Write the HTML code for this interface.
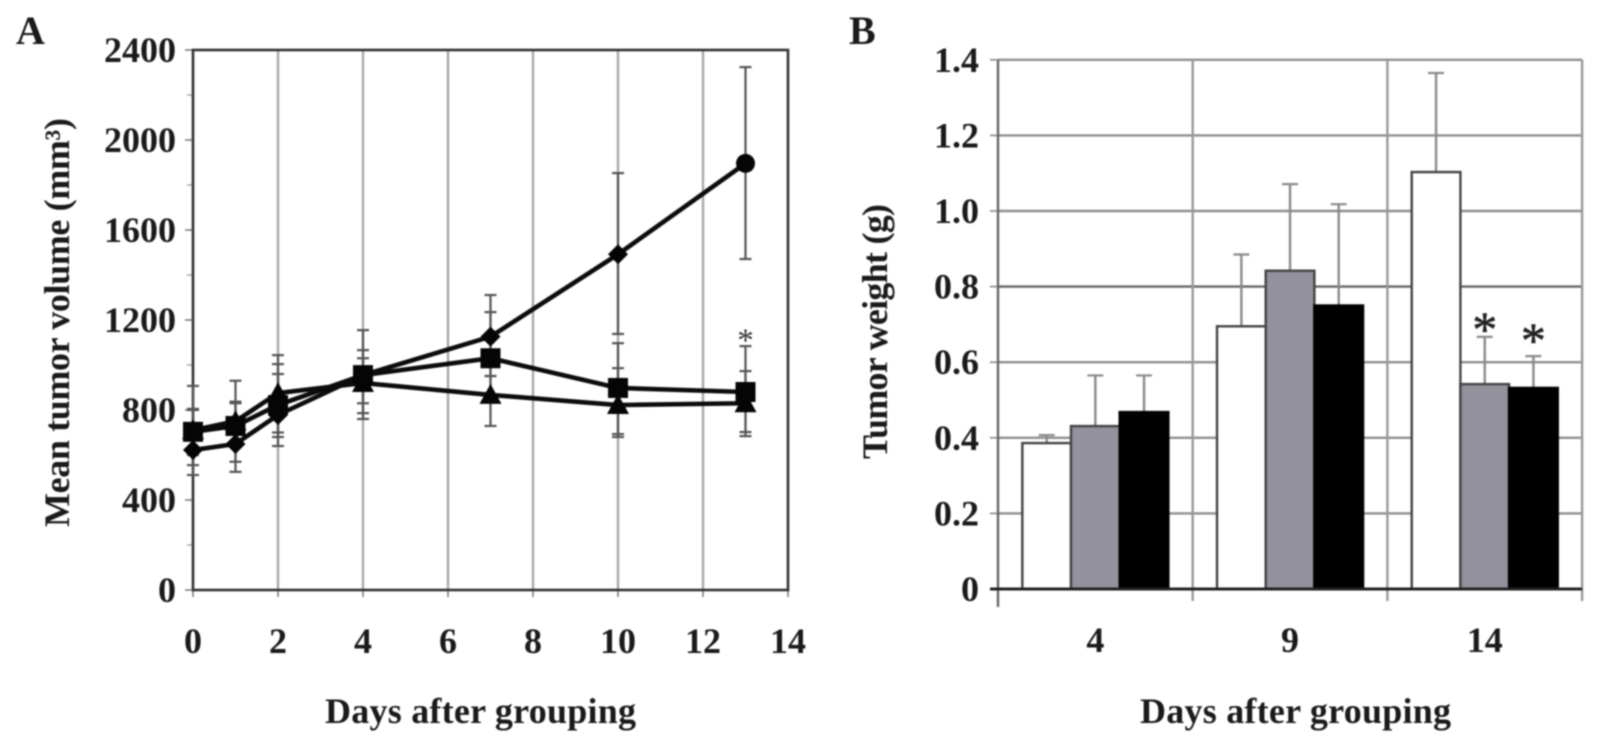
<!DOCTYPE html>
<html>
<head>
<meta charset="utf-8">
<style>
html,body{margin:0;padding:0;background:#fff;width:1599px;height:751px;overflow:hidden}
svg{display:block;filter:blur(.7px)}
text{font-family:"Liberation Serif",serif;font-weight:bold;fill:#1a1a1a}
</style>
</head>
<body>
<svg id="fig" width="1599" height="751" viewBox="0 0 1599 751" xmlns="http://www.w3.org/2000/svg">
<rect width="1599" height="751" fill="#fff"/>
<text x="16" y="44" font-size="40">A</text>
<text x="849" y="44" font-size="40">B</text>
<text x="325" y="723" font-size="36" textLength="311">Days after grouping</text>
<text transform="translate(69,527) rotate(-90)" font-size="36" textLength="409">Mean tumor volume (mm³)</text>
<text x="1140" y="723" font-size="36" textLength="311">Days after grouping</text>
<text transform="translate(887,459) rotate(-90)" font-size="36" textLength="255">Tumor weight (g)</text>
<g id="a"></g>
<g id="b"></g>
</svg>
<script>
/* Chart A data */
const aDays = [0, 1, 2, 4, 7, 10, 13];
const aXTicks = [0, 2, 4, 6, 8, 10, 12, 14];
const aYTicks = [0, 400, 800, 1200, 1600, 2000, 2400];
const aYMinorTicks = [200, 600, 1000, 1400, 1800, 2200];
const controlMean = [622, 649, 778, 955, 1126, 1492, 1896];
const controlUpper = [805, 837, 1004, 1155, 1311, 1853, 2324];
const controlLower = [511, 525, 640, 786, 951, 1138, 1471];
const squareMean = [703, 729, 822, 955, 1030, 898, 880];
const squareUpper = [907, 930, 1044, 1066, 1235, 1097, 1084];
const squareLower = [555, 570, 680, 830, 850, 693, 702];
const triangleMean = [710, 750, 875, 920, 867, 822, 830];
const triangleUpper = [800, 830, 960, 1030, 951, 986, 973];
const triangleLower = [600, 640, 700, 760, 729, 680, 684];

/* Chart B data */
const bCategories = ['4', '9', '14'];
const bYTicks = [0, 0.2, 0.4, 0.6, 0.8, 1.0, 1.2, 1.4];
const bWhite = [0.386, 0.695, 1.103];
const bGray = [0.431, 0.842, 0.542];
const bBlack = [0.468, 0.75, 0.532];
const bWhiteErr = [0.407, 0.885, 1.365];
const bGrayErr = [0.565, 1.071, 0.667];
const bBlackErr = [0.565, 1.018, 0.616];

const NS = 'http://www.w3.org/2000/svg';
function mk(parent, tag, attrs, txt) {
  const el = document.createElementNS(NS, tag);
  for (const k in attrs) el.setAttribute(k, attrs[k]);
  if (txt !== undefined) el.textContent = txt;
  parent.appendChild(el);
  return el;
}

/* ---------- Chart A ---------- */
const a = document.getElementById('a');
const ax = d => 193 + 42.5 * d;
const ay = v => 590 - 0.225 * v;

aXTicks.forEach(d => {
  if (d > 0 && d < 14) {
    const g = mk(a, 'line', {x1: ax(d), x2: ax(d), y1: ay(2400), y2: ay(0), stroke: '#a8a8a8', 'stroke-width': 2.4});
    
    
  }
  const t = mk(a, 'line', {x1: ax(d), x2: ax(d), y1: ay(0), y2: ay(0) + 7, stroke: '#777', 'stroke-width': 1.5});
  
  
  const l = mk(a, 'text', {x: ax(d), y: 653, 'font-size': 36, 'text-anchor': 'middle'}, String(d));
  
  
});
aYTicks.forEach(v => {
  const t = mk(a, 'line', {x1: ax(0) - 8, x2: ax(0), y1: ay(v), y2: ay(v), stroke: '#777', 'stroke-width': 1.5});
  
  
  const l = mk(a, 'text', {x: 176, y: ay(v) + 12, 'font-size': 36, 'text-anchor': 'end'}, String(v));
  
  
});
aYMinorTicks.forEach(v => {
  const t = mk(a, 'line', {x1: ax(0) - 6, x2: ax(0), y1: ay(v), y2: ay(v), stroke: '#999', 'stroke-width': 1.3});
  
  
});
const frame = mk(a, 'rect', {x: ax(0), y: ay(2400), width: ax(14) - ax(0), height: ay(0) - ay(2400), fill: 'none', stroke: '#333', 'stroke-width': 2.6});



function errorBars(upper, lower, name) {
  aDays.forEach((d, i) => {
    const s = mk(a, 'line', {x1: ax(d), x2: ax(d), y1: ay(upper[i]), y2: ay(lower[i]), stroke: '#555', 'stroke-width': 2.2});
    
    
    [upper[i], lower[i]].forEach(v => {
      const c = mk(a, 'line', {x1: ax(d) - 6, x2: ax(d) + 6, y1: ay(v), y2: ay(v), stroke: '#555', 'stroke-width': 2.2});
      
      
    });
  });
}
errorBars(controlUpper, controlLower, 'control');
errorBars(squareUpper, squareLower, 'square');
errorBars(triangleUpper, triangleLower, 'triangle');

function seriesLine(values, name) {
  const p = mk(a, 'polyline', {points: aDays.map((d, i) => ax(d) + ',' + ay(values[i])).join(' '), fill: 'none', stroke: '#0c0c0c', 'stroke-width': 4.6});
  
  
}
seriesLine(controlMean, 'control');
seriesLine(triangleMean, 'triangle');
seriesLine(squareMean, 'square');

controlMean.forEach((v, i) => {
  const x = ax(aDays[i]), y = ay(v);
  let m;
  if (i === controlMean.length - 1) m = mk(a, 'circle', {cx: x, cy: y, r: 9.5, fill: '#050505'});
  else m = mk(a, 'polygon', {points: [x, y - 10, x + 10, y, x, y + 10, x - 10, y].join(' '), fill: '#050505'});
  
  
});
triangleMean.forEach((v, i) => {
  const x = ax(aDays[i]), y = ay(v);
  const m = mk(a, 'polygon', {points: [x, y - 11, x + 11, y + 9, x - 11, y + 9].join(' '), fill: '#050505'});
  
  
});
squareMean.forEach((v, i) => {
  const x = ax(aDays[i]), y = ay(v);
  const m = mk(a, 'rect', {x: x - 10, y: y - 10, width: 20, height: 20, fill: '#050505'});
  
  
});
const starA = mk(a, 'text', {x: ax(13), y: 351, 'font-size': 33, 'text-anchor': 'middle', style: 'font-weight:normal;fill:#333'}, '*');



/* ---------- Chart B ---------- */
const b = document.getElementById('b');
const groupW = 194.7;
const bx0 = 998;
const by = v => 589 - 378 * v;
const barW = groupW / 4;
const barX = (g, s) => bx0 + groupW * g + barW / 2 + barW * s;

bYTicks.forEach(v => {
  if (v > 0) {
    const g = mk(b, 'line', {x1: bx0, x2: bx0 + groupW * 3, y1: by(v), y2: by(v), stroke: v === 0.8 ? '#666' : '#8e8e8e', 'stroke-width': 2.4});
    
    
  }
  const t = mk(b, 'line', {x1: bx0 - 8, x2: bx0, y1: by(v), y2: by(v), stroke: '#888', 'stroke-width': 1.6});
  
  
  const l = mk(b, 'text', {x: 979, y: by(v) + 12, 'font-size': 36, 'text-anchor': 'end'}, v === 0 ? '0' : v.toFixed(1));
  
  
});
[0, 1, 2, 3].forEach(i => {
  const g = mk(b, 'line', {x1: bx0 + groupW * i, x2: bx0 + groupW * i, y1: by(1.4), y2: by(0) + (i === 0 ? 18 : 12), stroke: i === 0 ? '#666' : '#999', 'stroke-width': 2.4});
  
  
});
bCategories.forEach((c, i) => {
  const l = mk(b, 'text', {x: bx0 + groupW * (i + 0.5), y: 652, 'font-size': 36, 'text-anchor': 'middle'}, c);
  
  
});
function bars(values, errs, s, fill, name) {
  values.forEach((v, g) => {
    const x = barX(g, s);
    const e = mk(b, 'line', {x1: x + barW / 2, x2: x + barW / 2, y1: by(errs[g]), y2: by(v), stroke: '#8a8a8a', 'stroke-width': 2.4});
    
    
    const c = mk(b, 'line', {x1: x + barW / 2 - 8, x2: x + barW / 2 + 8, y1: by(errs[g]), y2: by(errs[g]), stroke: '#8a8a8a', 'stroke-width': 2.2});
    
    
    const r = mk(b, 'rect', {x: x, y: by(v), width: barW, height: by(0) - by(v), fill: fill, stroke: fill === '#000' ? '#000' : '#444', 'stroke-width': 2.4});
    
    
  });
}
bars(bWhite, bWhiteErr, 0, '#fff', 'white');
bars(bGray, bGrayErr, 1, '#92919c', 'gray');
bars(bBlack, bBlackErr, 2, '#000', 'black');

const base = mk(b, 'line', {x1: bx0 - 8, x2: bx0 + groupW * 3, y1: by(0), y2: by(0), stroke: '#222', 'stroke-width': 3});



[[1, bGrayErr[2], 9], [2, bBlackErr[2], 1]].forEach(p => {
  const st = mk(b, 'text', {x: barX(2, p[0]) + barW / 2, y: by(p[1]) + p[2], 'font-size': 50, 'text-anchor': 'middle', style: 'font-weight:normal;fill:#222;stroke:#222;stroke-width:.6'}, '*');
  
  
});
</script>
</body>
</html>
